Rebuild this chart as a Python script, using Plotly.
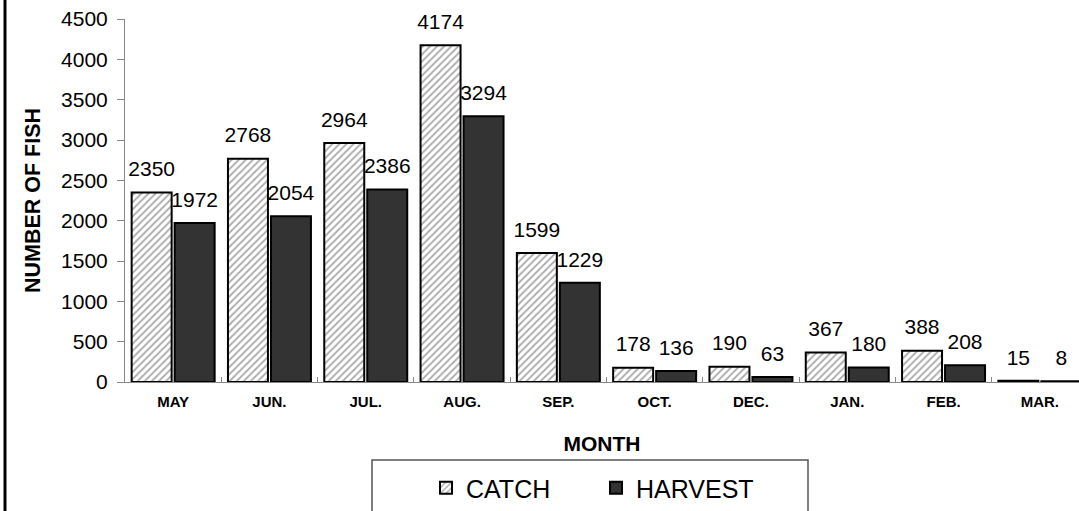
import plotly.graph_objects as go

months = ["MAY", "JUN.", "JUL.", "AUG.", "SEP.", "OCT.", "DEC.", "JAN.", "FEB.", "MAR."]
catch_vals = [2350, 2768, 2964, 4174, 1599, 178, 190, 367, 388, 15]
harvest_vals = [1972, 2054, 2386, 3294, 1229, 136, 63, 180, 208, 8]
y_ticks = [0, 500, 1000, 1500, 2000, 2500, 3000, 3500, 4000, 4500]

FONT = "Liberation Sans, Arial, sans-serif"
W, H = 1079, 511
ML, MT, MB, MR = 125, 19, 129, 0
PW = W - ML - MR
PH = H - MT - MB
CAT_PX = 96.3

def px_x(px):
    return (px - ML) / PW

def px_y(py):
    return (H - MB - py) / PH

fig = go.Figure()

fig.add_trace(go.Bar(
    x=months, y=catch_vals, name="CATCH", offsetgroup="c",
    marker=dict(color="white", line=dict(color="black", width=2),
                pattern=dict(shape="/", fgcolor="#555555", bgcolor="white", size=5, solidity=0.35)),
))
fig.add_trace(go.Bar(
    x=months, y=harvest_vals, name="HARVEST", offsetgroup="h",
    marker=dict(color="#333333", line=dict(color="black", width=2)),
))

for vals, grp in [(catch_vals, "c"), (harvest_vals, "h")]:
    fig.add_trace(go.Scatter(
        x=months, y=vals, mode="markers+text", offsetgroup=grp,
        text=[str(v) for v in vals], textposition="top center",
        textfont=dict(family=FONT, size=21, color="black"),
        marker=dict(size=16, opacity=0), showlegend=False, hoverinfo="skip",
        cliponaxis=False,
    ))

shapes = [
    dict(type="line", xref="paper", yref="paper", x0=px_x(5), x1=px_x(5), y0=-1, y1=2,
         line=dict(color="black", width=3), layer="above"),
    dict(type="rect", xref="paper", yref="paper", x0=px_x(372), x1=px_x(808),
         y0=px_y(460), y1=px_y(560), line=dict(color="#555555", width=1.5),
         fillcolor="rgba(0,0,0,0)", layer="above"),
]

fig.update_layout(
    width=W, height=H,
    margin=dict(l=ML, r=MR, t=MT, b=MB, autoexpand=False),
    paper_bgcolor="white", plot_bgcolor="white",
    barmode="group", bargap=0.107, bargroupgap=0.07,
    scattermode="group", scattergap=0.107,
    font=dict(family=FONT, color="black"),
    showlegend=True,
    legend=dict(orientation="h", x=px_x(426), y=px_y(488), xanchor="left", yanchor="middle",
                font=dict(family=FONT, size=25, color="black"),
                bgcolor="rgba(0,0,0,0)", borderwidth=0,
                entrywidth=125, entrywidthmode="pixels", traceorder="normal"),
    shapes=shapes,
    xaxis=dict(
        range=[-0.5, -0.5 + PW / CAT_PX],
        showline=True, linecolor="#888888", linewidth=1,
        ticks="inside", tickson="boundaries", ticklen=5, tickcolor="#888888",
        ticklabelstandoff=6,
        tickfont=dict(family=FONT, size=15, color="black", weight="bold"),
        showgrid=False, zeroline=False,
        title=dict(text="MONTH", font=dict(family=FONT, size=21, weight="bold"), standoff=27),
    ),
    yaxis=dict(
        range=[0, 4500], tickvals=y_ticks,
        showline=True, linecolor="#888888", linewidth=1,
        ticks="outside", ticklen=7, tickcolor="#888888",
        ticklabelstandoff=5,
        tickfont=dict(family=FONT, size=21, color="black"),
        showgrid=False, zeroline=False,
        title=dict(text="NUMBER OF FISH", font=dict(family=FONT, size=21.5, weight="bold"), standoff=14),
    ),
)

fig.write_html("out.html", config={"displayModeBar": False},
               post_script="document.body.style.margin='0';")
